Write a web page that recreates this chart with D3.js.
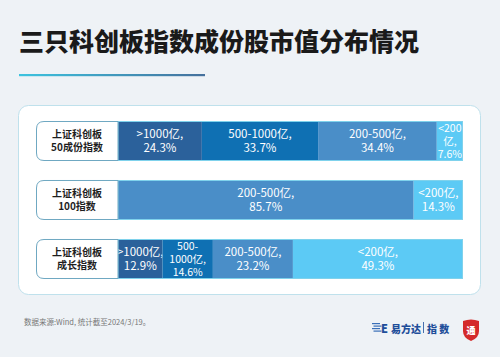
<!DOCTYPE html>
<html><head><meta charset="utf-8">
<script src="https://cdn.jsdelivr.net/npm/d3@7"></script>
<style>
html,body{margin:0;padding:0;background:#eef2f6;}
svg{display:block;font-family:"Noto Sans CJK SC","Noto Sans",sans-serif;}
</style></head><body>
<svg id="c" width="500" height="357"></svg>
<script>
const title = "三只科创板指数成份股市值分布情况";
const indices = ["上证科创板\n50成份指数", "上证科创板\n100指数", "上证科创板\n成长指数"];
const bands = [">1000亿", "500-1000亿", "200-500亿", "<200亿"];
const bandColors = ["#2b619b", "#0f70b3", "#4a8ec8", "#5ccaf5"];
const values = [
  [24.3, 33.7, 34.4, 7.6],
  [0, 0, 85.7, 14.3],
  [12.9, 14.6, 23.2, 49.3]
];
const cellLabels = [
  [">1000亿,\n24.3%", "500-1000亿,\n33.7%", "200-500亿,\n34.4%", "<200\n亿,\n7.6%"],
  ["", "", "200-500亿,\n85.7%", "<200亿,\n14.3%"],
  [">1000亿,\n12.9%", "500-\n1000亿,\n14.6%", "200-500亿,\n23.2%", "<200亿,\n49.3%"]
];
const source = "数据来源:Wind, 统计截至2024/3/19。";

const svg = d3.select("#c");
svg.append("rect").attr("width",500).attr("height",357).attr("fill","#eef2f6");

svg.append("text").attr("x",19).attr("y",51).attr("font-size",25).attr("font-weight",900)
  .attr("fill","#1a1a1a").text(title);

const defs = svg.append("defs");
const g = defs.append("linearGradient").attr("id","ul");
g.append("stop").attr("offset","0%").attr("stop-color","#3cc3df");
g.append("stop").attr("offset","100%").attr("stop-color","#45709c");
svg.append("rect").attr("x",19).attr("y",74).attr("width",186).attr("height",2.2).attr("fill","url(#ul)");

svg.append("rect").attr("x",18.5).attr("y",105.5).attr("width",462).attr("height",189).attr("rx",10)
  .attr("fill","#ffffff").attr("stroke","#bfe1ec").attr("stroke-width",1);

const x = d3.scaleLinear().domain([0,100]).range([118,463]);
const y = d3.scaleBand().domain(indices).range([121,279]).paddingInner(0.322).paddingOuter(0);

indices.forEach((name,i)=>{
  const row = svg.append("g");
  const y0 = y(name), h = y.bandwidth();
  let cum = 0;
  values[i].forEach((v,j)=>{
    if(v>0){
      row.append("rect").attr("x",x(cum)).attr("y",y0).attr("width",x(cum+v)-x(cum)).attr("height",h)
        .attr("fill",bandColors[j]);
      const lines = cellLabels[i][j].split("\n");
      const cx = (x(cum)+x(cum+v))/2;
      const lh = lines.length>2 ? 12.8 : 14.5;
      const fs = lines.length>2 ? 10.5 : 11.5;
      const t = row.append("text").attr("x",cx).attr("text-anchor","middle").attr("fill","#ffffff")
        .attr("font-size",fs);
      lines.forEach((l,k)=>{
        t.append("tspan").attr("x",cx).attr("y",y0+h/2+(k-(lines.length-1)/2)*lh+4).text(l);
      });
    }
    cum += v;
  });
  row.append("rect").attr("x",x(0)).attr("y",y0+0.5).attr("width",x(100)-x(0)-0.5).attr("height",h-1)
    .attr("fill","none").attr("stroke","#7fd2ec").attr("stroke-width",1);
  const lb = 36, lr = x(0), r = 8;
  const p = `M${lr},${y0+0.5} L${lb+r},${y0+0.5} Q${lb+0.5},${y0+0.5} ${lb+0.5},${y0+r} L${lb+0.5},${y0+h-r} Q${lb+0.5},${y0+h-0.5} ${lb+r},${y0+h-0.5} L${lr},${y0+h-0.5} Z`;
  row.append("path").attr("d",p).attr("fill","#ffffff").attr("stroke","#6fa8c2").attr("stroke-width",1);
  const ll = name.split("\n");
  const lt = row.append("text").attr("text-anchor","middle").attr("font-size",10).attr("font-weight",700).attr("fill","#1e1e1e");
  ll.forEach((l,k)=>{
    lt.append("tspan").attr("x",(lb+lr)/2).attr("y",y0+h/2+(k-(ll.length-1)/2)*13+3.6).text(l);
  });
});

svg.append("text").attr("x",24).attr("y",325).attr("font-size",7.5).attr("fill","#777").text(source);

const logo = svg.append("g");
[0,1,2,3].forEach(k=>{
  logo.append("rect").attr("x",372+(k%2)*1.5).attr("y",323+k*2.5).attr("width",8).attr("height",1.2).attr("fill","#3a6fb8");
});
logo.append("text").attr("x",381).attr("y",333).attr("font-size",11).attr("font-weight",900).attr("fill","#1f4e9a").text("E");
logo.append("text").attr("x",391).attr("y",333).attr("font-size",10).attr("font-weight",900).attr("fill","#1f4e9a").text("易方达");
logo.append("rect").attr("x",423).attr("y",322).attr("width",0.8).attr("height",11).attr("fill","#1f4e9a");
logo.append("text").attr("x",427).attr("y",333).attr("font-size",10).attr("font-weight",900).attr("fill","#1f4e9a").text("指 数");
logo.append("path").attr("d","M463,321 Q471,318 479,321 L479,331 Q479,338 471,341 Q463,338 463,331 Z").attr("fill","#d42a2a");
logo.append("text").attr("x",471).attr("y",334).attr("text-anchor","middle").attr("font-size",9).attr("font-weight",900).attr("fill","#fff").text("通");
</script>
</body></html>
